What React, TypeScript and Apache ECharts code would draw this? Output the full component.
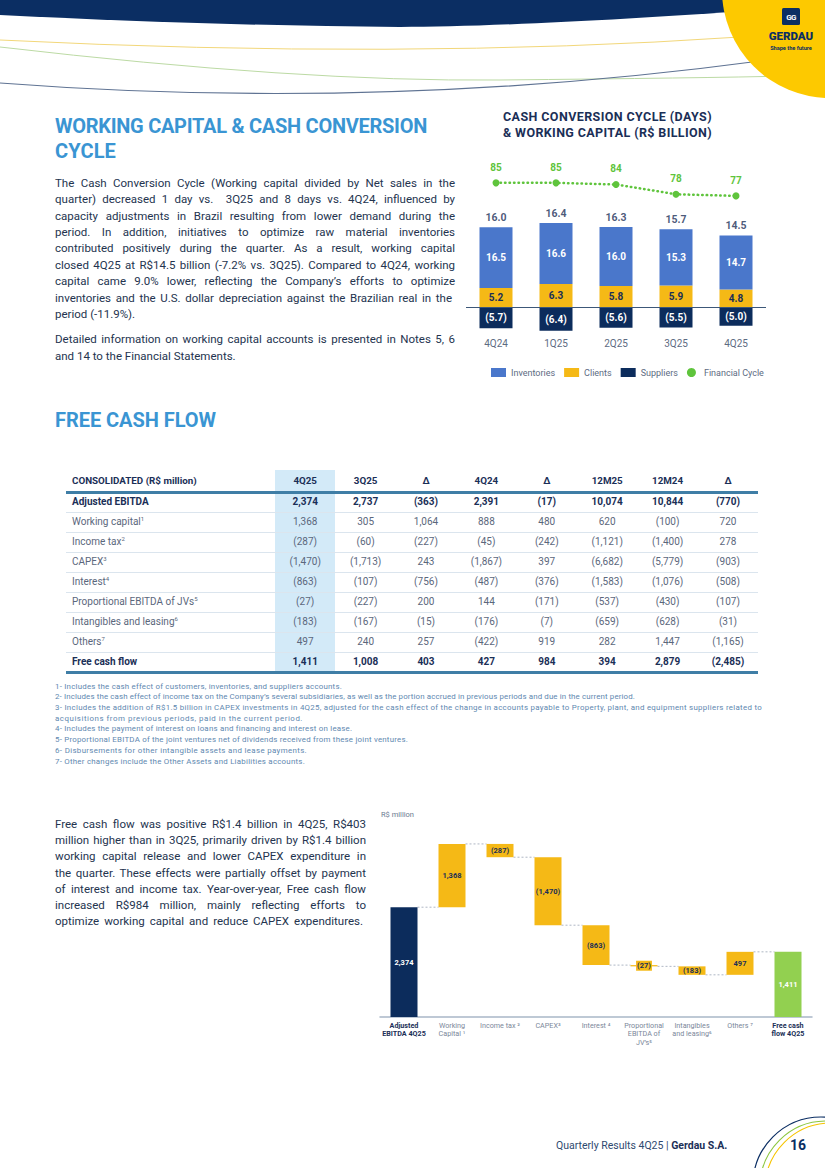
import React, { useEffect, useLayoutEffect, useRef } from 'react';
import * as echarts from 'echarts';

// ---------- DATA ----------
const quarters = ['4Q24', '1Q25', '2Q25', '3Q25', '4Q25'];
const inventories = [16.5, 16.6, 16.0, 15.3, 14.7];
const clients = [5.2, 6.3, 5.8, 5.9, 4.8];
const suppliers = [-5.7, -6.4, -5.6, -5.5, -5.0];
const workingCapital = [16.0, 16.4, 16.3, 15.7, 14.5];
const financialCycle = [85, 85, 84, 78, 77];

const wfCategories = [
  'Adjusted\nEBITDA 4Q25',
  'Working\nCapital ¹',
  'Income tax ²',
  'CAPEX³',
  'Interest ⁴',
  'Proportional\nEBITDA of\nJV\u2019s⁵',
  'Intangibles\nand leasing⁶',
  'Others ⁷',
  'Free cash\nflow 4Q25',
];
const wfValues = [2374, 1368, -287, -1470, -863, -27, -183, 497, 1411];

const tableHeader = ['CONSOLIDATED (R$ million)', '4Q25', '3Q25', 'Δ', '4Q24', 'Δ', '12M25', '12M24', 'Δ'];
const rowLabels = ['Adjusted EBITDA', 'Working capital', 'Income tax', 'CAPEX', 'Interest', 'Proportional EBITDA of JVs', 'Intangibles and leasing', 'Others', 'Free cash flow'];
const rowNotes = ['', '1', '2', '3', '4', '5', '6', '7', ''];
const rowAdjustedEbitda = ['2,374', '2,737', '(363)', '2,391', '(17)', '10,074', '10,844', '(770)'];
const rowWorkingCapital = ['1,368', '305', '1,064', '888', '480', '620', '(100)', '720'];
const rowIncomeTax = ['(287)', '(60)', '(227)', '(45)', '(242)', '(1,121)', '(1,400)', '278'];
const rowCapex = ['(1,470)', '(1,713)', '243', '(1,867)', '397', '(6,682)', '(5,779)', '(903)'];
const rowInterest = ['(863)', '(107)', '(756)', '(487)', '(376)', '(1,583)', '(1,076)', '(508)'];
const rowJVs = ['(27)', '(227)', '200', '144', '(171)', '(537)', '(430)', '(107)'];
const rowIntangibles = ['(183)', '(167)', '(15)', '(176)', '(7)', '(659)', '(628)', '(31)'];
const rowOthers = ['497', '240', '257', '(422)', '919', '282', '1,447', '(1,165)'];
const rowFreeCashFlow = ['1,411', '1,008', '403', '427', '984', '394', '2,879', '(2,485)'];
const tableRows = [rowAdjustedEbitda, rowWorkingCapital, rowIncomeTax, rowCapex, rowInterest, rowJVs, rowIntangibles, rowOthers, rowFreeCashFlow];
const boldRows = [0, 8];

// ---------- STYLE ----------
const NAVY = '#0c2c5c';
const TXT = '#1b2f57';
const BLUE = '#4a77cb';
const YELLOW = '#f5b916';
const GREEN = '#5fc43c';
const FONT = 'Roboto, sans-serif';

function Fit({ text, w, mode = 'auto', style }: { text: string; w?: number; mode?: string; style?: any }) {
  const ref = useRef<HTMLSpanElement>(null);
  useLayoutEffect(() => {
    const el = ref.current;
    if (!el || !w) return;
    el.style.letterSpacing = '0px';
    el.style.wordSpacing = '0px';
    const nat = el.getBoundingClientRect().width;
    const diff = w - nat;
    const spaces = (text.match(/ /g) || []).length;
    if (mode !== 'letter' && diff >= 0 && spaces > 0) el.style.wordSpacing = `${diff / spaces}px`;
    else el.style.letterSpacing = `${diff / text.length}px`;
  }, [text, w, mode]);
  return (
    <span ref={ref} style={{ display: 'inline-block', whiteSpace: 'pre', ...style }}>
      {text}
    </span>
  );
}

function TextLine({ x, y, lh, text, w, mode, style }: any) {
  return (
    <div style={{ position: 'absolute', left: x, top: y - lh / 2, height: lh, lineHeight: `${lh}px`, whiteSpace: 'nowrap', ...style }}>
      <Fit text={text} w={w} mode={mode} />
    </div>
  );
}

const para1 = [
  { t: 'The Cash Conversion Cycle (Working capital divided by Net sales in the', w: 400 },
  { t: 'quarter) decreased 1 day vs.  3Q25 and 8 days vs. 4Q24, influenced by', w: 400 },
  { t: 'capacity adjustments in Brazil resulting from lower demand during the', w: 400 },
  { t: 'period. In addition, initiatives to optimize raw material inventories', w: 400 },
  { t: 'contributed positively during the quarter. As a result, working capital', w: 400 },
  { t: 'closed 4Q25 at R$14.5 billion (-7.2% vs. 3Q25). Compared to 4Q24, working', w: 400 },
  { t: 'capital came 9.0% lower, reflecting the Company\u2019s efforts to optimize', w: 400 },
  { t: 'inventories and the U.S. dollar depreciation against the Brazilian real in the', w: 397 },
  { t: 'period (-11.9%).', w: 0 },
];
const para2 = [
  { t: 'Detailed information on working capital accounts is presented in Notes 5, 6', w: 400 },
  { t: 'and 14 to the Financial Statements.', w: 0 },
];
const para3 = [
  { t: 'Free cash flow was positive R$1.4 billion in 4Q25, R$403', w: 311 },
  { t: 'million higher than in 3Q25, primarily driven by R$1.4 billion', w: 311 },
  { t: 'working capital release and lower CAPEX expenditure in', w: 311 },
  { t: 'the quarter. These effects were partially offset by payment', w: 311 },
  { t: 'of interest and income tax. Year-over-year, Free cash flow', w: 311 },
  { t: 'increased R$984 million, mainly reflecting efforts to', w: 311 },
  { t: 'optimize working capital and reduce CAPEX expenditures.', w: 308 },
];
const footnotes = [
  { t: '1- Includes the cash effect of customers, inventories, and suppliers accounts.', w: 287 },
  { t: '2- Includes the cash effect of income tax on the Company\u2019s several subsidiaries, as well as the portion accrued in previous periods and due in the current period.', w: 580 },
  { t: '3- Includes the addition of R$1.5 billion in CAPEX investments in 4Q25, adjusted for the cash effect of the change in accounts payable to Property, plant, and equipment suppliers related to', w: 707 },
  { t: 'acquisitions from previous periods, paid in the current period.', w: 248 },
  { t: '4- Includes the payment of interest on loans and financing and interest on lease.', w: 297 },
  { t: '5- Proportional EBITDA of the joint ventures net of dividends received from these joint ventures.', w: 353 },
  { t: '6- Disbursements for other intangible assets and lease payments.', w: 252 },
  { t: '7- Other changes include the Other Assets and Liabilities accounts.', w: 250 },
];

const fmt = (v: number) => {
  const s = Math.abs(v).toLocaleString('en-US');
  return v < 0 ? `(${s})` : s;
};

export default function App() {
  const topRef = useRef<HTMLDivElement>(null);
  const wfRef = useRef<HTMLDivElement>(null);

  useEffect(() => {
    const c1 = echarts.init(topRef.current!, null, { renderer: 'svg' });
    c1.setOption({
      animation: false,
      textStyle: { fontFamily: FONT },
      grid: { left: 26, right: 59, top: 60, bottom: 67 },
      legend: {
        left: 46,
        top: 263,
        itemWidth: 15,
        itemHeight: 9,
        itemGap: 9,
        textStyle: { fontSize: 9, color: '#5d6b82', fontFamily: FONT },
        data: [
          { name: 'Inventories', icon: 'rect' },
          { name: 'Clients', icon: 'rect' },
          { name: 'Suppliers', icon: 'rect' },
          { name: 'Financial Cycle', icon: 'circle' },
        ],
      },
      xAxis: {
        type: 'category',
        data: quarters,
        axisLine: { show: false, onZero: false },
        axisTick: { show: false },
        axisLabel: { color: '#5d6b82', fontSize: 10, margin: 5, fontFamily: FONT },
      },
      yAxis: [
        { type: 'value', min: -7, max: 40, show: false, splitLine: { show: false } },
        { type: 'value', min: -7, max: 99, show: false, splitLine: { show: false } },
      ],
      series: [
        {
          name: 'Clients',
          type: 'bar',
          stack: 'wc',
          barWidth: 33,
          data: clients,
          itemStyle: { color: YELLOW },
          label: { show: true, position: 'inside', color: TXT, fontWeight: 'bold', fontSize: 10, formatter: (p: any) => p.value.toFixed(1) },
          markLine: {
            silent: true,
            symbol: 'none',
            label: { show: false },
            lineStyle: { color: '#3c5778', width: 1, type: 'solid' },
            data: [{ yAxis: 0 }],
          },
        },
        {
          name: 'Inventories',
          type: 'bar',
          stack: 'wc',
          barWidth: 33,
          data: inventories,
          itemStyle: { color: BLUE },
          label: { show: true, position: 'inside', color: '#fff', fontWeight: 'bold', fontSize: 10, formatter: (p: any) => p.value.toFixed(1) },
        },
        {
          name: 'Suppliers',
          type: 'bar',
          stack: 'wc',
          barWidth: 33,
          data: suppliers,
          itemStyle: { color: NAVY },
          label: { show: true, position: 'inside', color: '#fff', fontWeight: 'bold', fontSize: 10, formatter: (p: any) => `(${Math.abs(p.value).toFixed(1)})` },
        },
        {
          name: 'Total',
          type: 'scatter',
          data: inventories.map((v, i) => v + clients[i]),
          symbolSize: 2,
          itemStyle: { color: 'rgba(0,0,0,0)' },
          label: { show: true, position: 'top', distance: 3, color: TXT, fontWeight: 'bold', fontSize: 10.5, formatter: (p: any) => workingCapital[p.dataIndex].toFixed(1) },
          z: 5,
        },
        {
          name: 'Financial Cycle',
          type: 'line',
          yAxisIndex: 1,
          data: financialCycle,
          symbol: 'circle',
          symbolSize: 7,
          itemStyle: { color: GREEN },
          lineStyle: { color: GREEN, width: 2.5, type: [0.5, 4], cap: 'round' },
          label: { show: true, position: 'top', distance: 7, color: GREEN, fontWeight: 'bold', fontSize: 10 },
        },
      ],
    });

    // waterfall
    const bases: number[] = [];
    const heights: number[] = [];
    const levels: number[][] = [];
    let run = 0;
    wfValues.forEach((v, i) => {
      if (i === 0 || i === wfValues.length - 1) {
        bases.push(0);
        heights.push(v);
        run = v;
      } else {
        const next = run + v;
        bases.push(Math.min(run, next));
        heights.push(Math.abs(v));
        run = next;
      }
      if (i < wfValues.length - 1) levels.push([i, run]);
    });
    const last = wfValues.length - 1;
    const colorFor = (i: number) => (i === 0 ? NAVY : i === last ? '#92d050' : YELLOW);

    const c2 = echarts.init(wfRef.current!, null, { renderer: 'svg' });
    c2.setOption({
      animation: false,
      textStyle: { fontFamily: FONT },
      grid: { left: 10, right: 13, top: 32, bottom: 33 },
      graphic: [
        { type: 'text', left: 11, top: 10, style: { text: 'R$ million', fontSize: 7.5, fill: '#6b7a90', fontFamily: FONT } },
      ],
      xAxis: {
        type: 'category',
        data: wfCategories,
        axisLine: { lineStyle: { color: '#a9b7c7', width: 1.5 } },
        axisTick: { show: false },
        axisLabel: {
          interval: 0,
          margin: 4,
          formatter: (val: string, idx: number) => {
            const k = idx === 0 || idx === last ? 'b' : 'n';
            return val.split('\n').map((l) => `{${k}|${l}}`).join('\n');
          },
          rich: {
            n: { fontSize: 7.2, color: '#7b879a', lineHeight: 8.5, fontFamily: FONT },
            b: { fontSize: 7.2, color: TXT, fontWeight: 'bold', lineHeight: 8.5, fontFamily: FONT },
          },
        },
      },
      yAxis: { type: 'value', min: 0, max: 4000, show: false, splitLine: { show: false } },
      series: [
        {
          type: 'bar',
          stack: 'wf',
          barWidth: 27,
          silent: true,
          data: bases,
          itemStyle: { color: 'transparent' },
        },
        {
          type: 'bar',
          stack: 'wf',
          barWidth: 27,
          data: heights.map((h, i) => ({
            value: h,
            itemStyle: { color: colorFor(i) },
            label: i === 5 ? { color: TXT, backgroundColor: YELLOW, padding: [1, 1] } : { color: i === 0 || i === last ? '#fff' : TXT },
          })),
          label: {
            show: true,
            position: 'inside',
            fontSize: 7.5,
            fontWeight: 'bold',
            formatter: (p: any) => fmt(wfValues[p.dataIndex]),
          },
        },
        {
          type: 'custom',
          data: levels,
          silent: true,
          z: 1,
          renderItem: (params: any, api: any) => {
            const i = api.value(0);
            const lvl = api.value(1);
            const p1 = api.coord([i, lvl]);
            const p2 = api.coord([i + 1, lvl]);
            return {
              type: 'line',
              shape: { x1: p1[0] + 13.5, y1: p1[1], x2: p2[0] - 13.5, y2: p2[1] },
              style: { stroke: '#9aa5b5', lineDash: [2, 2], lineWidth: 0.8 },
            };
          },
        },
      ],
    });

    return () => {
      c1.dispose();
      c2.dispose();
    };
  }, []);

  const colL = 275;
  const colW = 60.4;
  const rowTop = (r: number) => (r === 0 ? 470 : 492 + (r - 1) * 20);
  const rowH = (r: number) => (r === 0 ? 22 : 20);

  const bodyTxt = { fontFamily: FONT, fontSize: 11.5, color: '#24344f' };
  const headTxt = { fontFamily: FONT, fontSize: 20, fontWeight: 700, color: '#3a95d3' };

  return (
    <div style={{ position: 'absolute', left: 0, top: 0, width: 825, height: 1168, background: '#fff', overflow: 'hidden', fontFamily: FONT }}>
      {/* header decoration */}
      <svg width={825} height={110} style={{ position: 'absolute', left: 0, top: 0 }}>
        <path d="M0,0 H760 V10 C 620,20 480,27 400,27 C 260,26 120,21 0,15 Z" fill="#0b2e63" />
        <path d="M0,40 Q 400,60 740,37" stroke="#f2d77a" strokeWidth={1} fill="none" />
        <path d="M0,47 Q 300,82 500,80 T 790,76" stroke="#bcdaa4" strokeWidth={1} fill="none" />
        <path d="M0,83 Q 380,112 760,61" stroke="#5f7393" strokeWidth={1.2} fill="none" />
        <circle cx={830} cy={-10} r={108} fill="#fdc900" />
        <rect x={782} y={8} width={18} height={17} rx={1.5} fill="#0b2e63" />
        <text x={791} y={20} fontSize={8} fontWeight={700} fill="#fff" textAnchor="middle" fontFamily={FONT} letterSpacing={-0.8}>GG</text>
        <text x={791} y={40} fontSize={11.5} fontWeight={900} fill="#0b2e63" textAnchor="middle" fontFamily={FONT}>GERDAU</text>
        <text x={791} y={50} fontSize={5.6} fontWeight={700} fill="#0b2e63" textAnchor="middle" fontFamily={FONT}>Shape the future</text>
      </svg>

      {/* heading 1 */}
      <TextLine x={55} y={126.5} lh={25} text="WORKING CAPITAL & CASH CONVERSION" w={372} mode="letter" style={headTxt} />
      <TextLine x={55} y={151.5} lh={25} text="CYCLE" w={61} mode="letter" style={headTxt} />

      {para1.map((l, i) => (
        <TextLine key={'p1' + i} x={55} y={183 + i * 16.4} lh={16.4} text={l.t} w={l.w || undefined} style={bodyTxt} />
      ))}
      {para2.map((l, i) => (
        <TextLine key={'p2' + i} x={55} y={339.3 + i * 16.4} lh={16.4} text={l.t} w={l.w || undefined} style={bodyTxt} />
      ))}

      {/* top chart title */}
      <TextLine x={503} y={117} lh={16} text="CASH CONVERSION CYCLE (DAYS)" w={209} mode="letter" style={{ fontFamily: FONT, fontSize: 12.5, fontWeight: 700, color: TXT }} />
      <TextLine x={503} y={133} lh={16} text="& WORKING CAPITAL (R$ BILLION)" w={209} mode="letter" style={{ fontFamily: FONT, fontSize: 12.5, fontWeight: 700, color: TXT }} />
      <div ref={topRef} style={{ position: 'absolute', left: 440, top: 100, width: 385, height: 300 }} />

      {/* heading 2 */}
      <TextLine x={55} y={420} lh={25} text="FREE CASH FLOW" w={161} mode="letter" style={headTxt} />

      {/* table */}
      <div style={{ position: 'absolute', left: colL, top: 470, width: colW, height: 201, background: '#d3eaf8' }} />
      {Array.from({ length: 8 }).map((_, k) => (
        <div key={'sep' + k} style={{ position: 'absolute', left: 66, top: 512 + k * 20, width: 692, height: 1, background: '#dbe5ee' }} />
      ))}
      <div style={{ position: 'absolute', left: 66, top: 491, width: 692, height: 2.5, background: '#3f7ea6' }} />
      <div style={{ position: 'absolute', left: 66, top: 671, width: 692, height: 2.5, background: '#3f7ea6' }} />
      {tableHeader.map((h, j) => (
        <div
          key={'h' + j}
          style={{
            position: 'absolute',
            left: j === 0 ? 72 : colL + (j - 1) * colW,
            width: j === 0 ? 200 : colW,
            top: rowTop(0),
            height: rowH(0),
            lineHeight: `${rowH(0)}px`,
            textAlign: j === 0 ? 'left' : 'center',
            fontSize: 9.8,
            fontWeight: 700,
            color: TXT,
            whiteSpace: 'nowrap',
          }}
        >
          {h}
        </div>
      ))}
      {tableRows.map((row, r) => {
        const bold = boldRows.includes(r);
        const color = bold ? TXT : '#5b677c';
        const top = rowTop(r + 1);
        const h = rowH(r + 1);
        return (
          <React.Fragment key={'r' + r}>
            <div style={{ position: 'absolute', left: 72, top, height: h, lineHeight: `${h}px`, fontSize: 10, fontWeight: bold ? 700 : 400, color, whiteSpace: 'nowrap' }}>
              <span>{rowLabels[r]}</span>
              {rowNotes[r] ? <span style={{ fontSize: 6, verticalAlign: '4px', lineHeight: '6px' }}>{rowNotes[r]}</span> : null}
            </div>
            {row.map((v, j) => (
              <div
                key={'c' + j}
                style={{
                  position: 'absolute',
                  left: colL + j * colW,
                  width: colW,
                  top,
                  height: h,
                  lineHeight: `${h}px`,
                  textAlign: 'center',
                  fontSize: 10,
                  fontWeight: bold ? 700 : 400,
                  color,
                }}
              >
                {v}
              </div>
            ))}
          </React.Fragment>
        );
      })}

      {/* footnotes */}
      {footnotes.map((f, i) => (
        <TextLine key={'fn' + i} x={55} y={687 + i * 10.7} lh={10.7} text={f.t} w={f.w} mode="letter" style={{ fontFamily: FONT, fontSize: 7.9, color: '#6088b0' }} />
      ))}

      {/* bottom paragraph */}
      {para3.map((l, i) => (
        <TextLine key={'p3' + i} x={55} y={824 + i * 16.2} lh={16.2} text={l.t} w={l.w} style={bodyTxt} />
      ))}

      {/* waterfall */}
      <div ref={wfRef} style={{ position: 'absolute', left: 370, top: 800, width: 455, height: 250 }} />

      {/* footer */}
      <div style={{ position: 'absolute', left: 556, top: 1139, height: 14, lineHeight: '14px', fontSize: 10.5, color: '#2f4a6f', whiteSpace: 'nowrap' }}>
        Quarterly Results 4Q25 | <span style={{ fontWeight: 700, color: TXT }}>Gerdau S.A.</span>
      </div>
      <svg width={125} height={78} style={{ position: 'absolute', left: 700, top: 1090 }}>
        <circle cx={121} cy={95} r={68} stroke="#0b2e63" strokeWidth={1.2} fill="none" />
        <circle cx={126} cy={97} r={66} stroke="#8cc63f" strokeWidth={1.1} fill="none" />
        <circle cx={131} cy={99} r={66} stroke="#f5c400" strokeWidth={1.1} fill="none" />
        <text x={98} y={60} fontSize={14} fontWeight={700} fill="#0b2e63" textAnchor="middle" fontFamily={FONT}>16</text>
      </svg>
    </div>
  );
}
